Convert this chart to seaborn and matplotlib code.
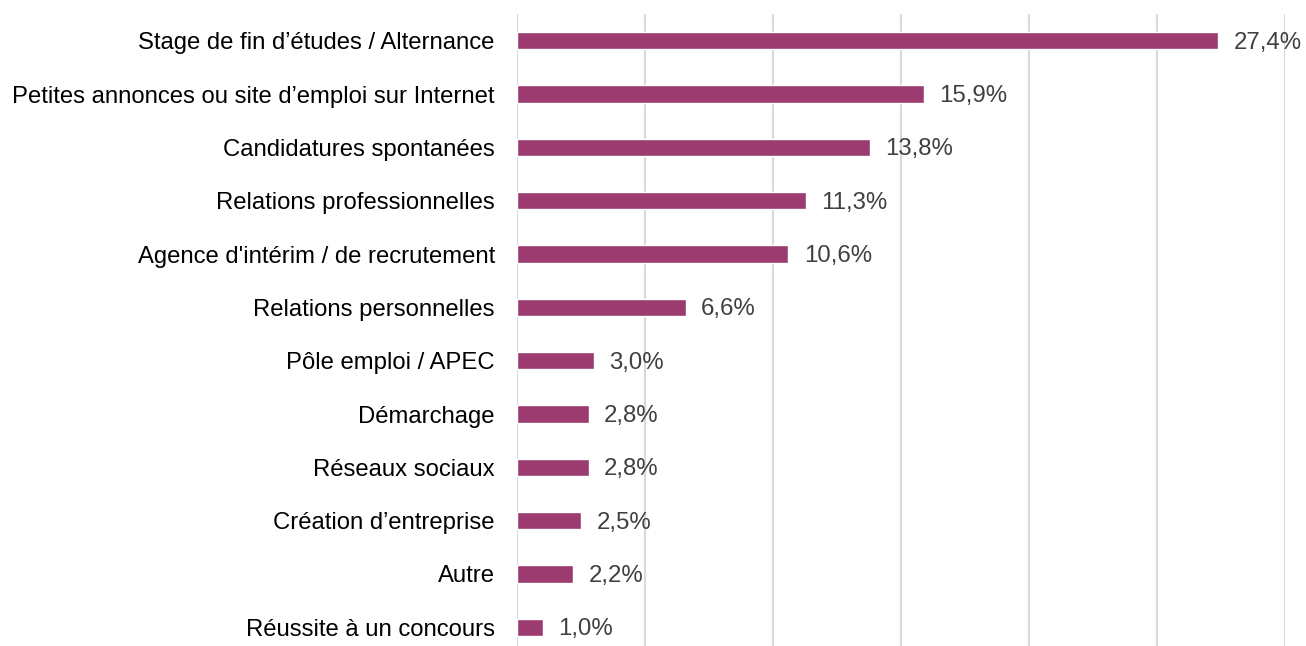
import matplotlib
matplotlib.use("Agg")
import numpy as np
import pandas as pd
import seaborn as sns
import matplotlib.pyplot as plt

categories = [
    "Stage de fin d’études / Alternance",
    "Petites annonces ou site d’emploi sur Internet",
    "Candidatures spontanées",
    "Relations professionnelles",
    "Agence d'intérim / de recrutement",
    "Relations personnelles",
    "Pôle emploi / APEC",
    "Démarchage",
    "Réseaux sociaux",
    "Création d’entreprise",
    "Autre",
    "Réussite à un concours",
]
values = [27.4, 15.9, 13.8, 11.3, 10.6, 6.6, 3.0, 2.8, 2.8, 2.5, 2.2, 1.0]

sns.set_style("white")
plt.rcParams['font.family'] = ['Liberation Sans', 'DejaVu Sans']

data = pd.DataFrame({"mode": categories, "share": values})

fig = plt.figure(figsize=(13.06, 6.46), dpi=100)
ax = fig.add_axes([517 / 1306, -8 / 646, (1285 - 517) / 1306, 640 / 646])

sns.barplot(data=data, x="share", y="mode", color="#9b3b70", saturation=1,
            width=0.32, orient="h", ax=ax)

ax.set_xlim(0, 30)
ax.set_ylim(11.5, -0.5)
ax.set_xticks(np.arange(0, 31, 5))
ax.xaxis.grid(True, color="#d9d9d9", linewidth=1.5)
ax.set_axisbelow(True)
ax.tick_params(axis="x", bottom=False, labelbottom=False)
ax.tick_params(axis="y", left=False, length=0, labelsize=17.2, pad=16,
               labelcolor="#000000")
ax.set_xlabel("")
ax.set_ylabel("")
for s in ax.spines.values():
    s.set_visible(False)

# value labels, comma decimal like the source
for i, v in enumerate(values):
    ax.annotate(f"{v:.1f}%".replace(".", ","), (v, i), xytext=(11, -1.5),
                textcoords="offset points", va="center", ha="left",
                fontsize=17.3, color="#404040")

fig.savefig("out.png", dpi=100)
